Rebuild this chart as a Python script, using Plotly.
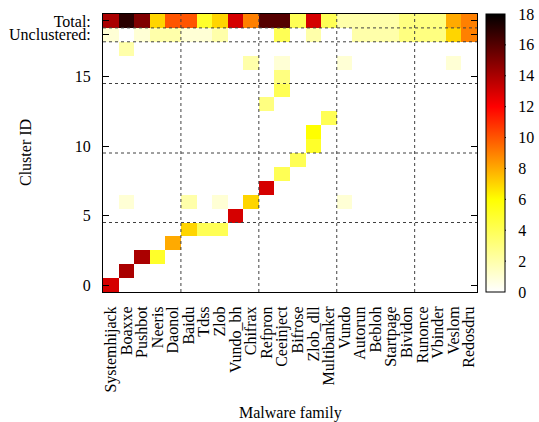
import plotly.graph_objects as go

families = ["Systemhijack", "Boaxxe", "Pushbot", "Neeris", "Daonol", "Baidu", "Tdss",
            "Zlob", "Vundo_bh", "Chifrax", "Refpron", "Ceeinject", "Bifrose", "Zlob_dll",
            "Multibanker", "Vundo", "Autorun", "Bebloh", "Startpage", "Bividon", "Runonce",
            "Vbinder", "Veslom", "Redosdru"]

n_clusters = 18

# sparse cluster cells: cluster id, family, count
cell_cluster = [0, 1, 2, 2, 3, 4, 4, 4, 5, 6, 6, 6, 6, 6, 7, 8, 9, 10, 11, 12, 13, 14, 15, 16, 16, 16, 16, 17]
cell_family = ["Systemhijack", "Boaxxe", "Pushbot", "Neeris", "Daonol", "Baidu", "Tdss", "Zlob",
               "Vundo_bh", "Boaxxe", "Baidu", "Zlob", "Chifrax", "Vundo", "Refpron", "Ceeinject",
               "Bifrose", "Zlob_dll", "Zlob_dll", "Multibanker", "Refpron", "Ceeinject",
               "Ceeinject", "Chifrax", "Ceeinject", "Vundo", "Veslom", "Boaxxe"]
cell_count = [13, 14, 14, 5, 8, 7, 4, 4, 13, 1, 2, 1, 7, 1, 13, 4, 4, 5, 6, 4, 3, 4, 3, 2, 1, 1, 1, 2]

unclustered = [1, 0, 1, 2, 2, 1, 1, 2, 0, 0, 0, 4, 0, 2, 0, 0, 2, 2, 2, 3, 3, 3, 7, 9]
total = [14, 17, 15, 7, 10, 10, 5, 7, 13, 9, 16, 16, 4, 13, 4, 2, 2, 2, 2, 3, 3, 3, 8, 9]

y_tickvals = [0, 5, 10, 15, 18, 19]
y_ticktext = ["0", "5", "10", "15", "Unclustered:", "Total:"]
cb_ticks = [0, 2, 4, 6, 8, 10, 12, 14, 16, 18]

# build matrix
nrows = n_clusters + 2
z = [[None] * len(families) for _ in range(nrows)]
for c, f, v in zip(cell_cluster, cell_family, cell_count):
    z[c][families.index(f)] = v
for j, v in enumerate(unclustered):
    z[n_clusters][j] = v if v else None
for j, v in enumerate(total):
    z[n_clusters + 1][j] = v if v else None

colorscale = [[0.0, "#ffffff"], [1 / 3, "#ffff00"], [2 / 3, "#ff0000"], [1.0, "#000000"]]

fig = go.Figure(go.Heatmap(
    z=z, x=families, y=list(range(nrows)),
    colorscale=colorscale, zmin=0, zmax=18, xgap=0, ygap=0,
    colorbar=dict(
        x=1.025, xanchor="left", y=0.5, yanchor="middle", len=1, lenmode="fraction",
        thickness=19, outlinewidth=1, outlinecolor="black", xpad=0, ypad=0,
        tickvals=cb_ticks, ticks="outside", ticklen=10, tickcolor="rgba(0,0,0,0)",
        tickfont=dict(size=16, family="Liberation Serif", color="black"),
    ),
    hoverongaps=False,
))

shapes = []
for xv in [4.5, 9.5, 14.5, 19.5]:
    shapes.append(dict(type="line", xref="x", yref="paper", x0=xv, x1=xv, y0=0, y1=1,
                       line=dict(color="#404040", width=1, dash="dot"), layer="above"))
for yv in [4.5, 9.5, 14.5, 17.5, 18.5]:
    shapes.append(dict(type="line", xref="paper", yref="y", x0=0, x1=1, y0=yv, y1=yv,
                       line=dict(color="#404040", width=1, dash="dot"), layer="above"))
# dashes on both sides of the colorbar
for v in cb_ticks[1:-1]:
    yy = -0.5 + 20 * v / 18
    for xa, xb in [(1.0265, 1.040), (1.0645, 1.0775)]:
        shapes.append(dict(type="line", xref="paper", yref="y", x0=xa, x1=xb,
                           y0=yy, y1=yy, line=dict(color="black", width=1), layer="above"))

fig.update_layout(
    width=539, height=422,
    margin=dict(l=103, r=62, t=14, b=130, autoexpand=False),
    plot_bgcolor="white", paper_bgcolor="white",
    font=dict(family="Liberation Serif", size=16, color="black"),
    xaxis=dict(type="category", categoryorder="array", categoryarray=families,
               tickmode="array", tickvals=families, ticktext=families,
               range=[-0.5, 23.5], tickangle=-90, showline=True, linecolor="black",
               linewidth=1, mirror=True, ticks="", showgrid=False, ticklabelstandoff=7),
    yaxis=dict(range=[-0.5, 19.5], tickvals=y_tickvals, ticktext=y_ticktext,
               ticks="inside", ticklen=6, tickcolor="black", showline=True,
               linecolor="black", linewidth=1, mirror="ticks", showgrid=False,
               zeroline=False, ticklabelstandoff=8),
    shapes=shapes,
    annotations=[
        dict(text="Malware family", xref="paper", yref="paper", x=0.5, y=0,
             yshift=-121, showarrow=False, xanchor="center", yanchor="middle",
             font=dict(size=16)),
        dict(text="Cluster ID", xref="paper", yref="paper", x=0, y=0.5,
             xshift=-78, showarrow=False, textangle=-90, xanchor="center",
             yanchor="middle", font=dict(size=16)),
    ],
)

fig.write_html("out.html", config={"displayModeBar": False},
               post_script="document.body.style.margin='0';")
